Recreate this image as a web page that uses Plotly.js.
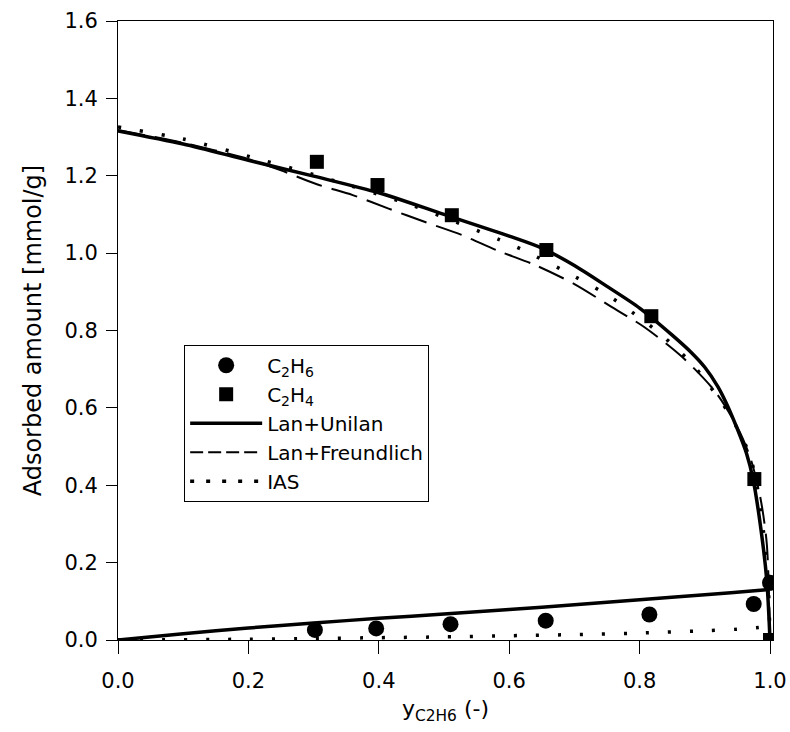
<!DOCTYPE html>
<html><head><meta charset="utf-8">
<script src="https://cdn.plot.ly/plotly-3.0.1.min.js"></script>
<style>html,body{margin:0;padding:0;background:#fff}#chart{width:790px;height:732px}</style>
</head><body><div id="chart"></div>
<script>
// Experimental points
const c2h6X = [0.302, 0.396, 0.510, 0.656, 0.815, 0.975, 1.0];
const c2h6Y = [0.026, 0.030, 0.041, 0.050, 0.066, 0.093, 0.148];
const c2h4X = [0.305, 0.398, 0.512, 0.657, 0.818, 0.976, 1.0];
const c2h4Y = [1.236, 1.176, 1.098, 1.008, 0.837, 0.416, 0.0];

// Lan+Unilan model curves
const unilanC2H4X = [0, 0.1, 0.2, 0.3, 0.4, 0.5, 0.6, 0.65, 0.7, 0.75, 0.8, 0.85, 0.88, 0.9, 0.92, 0.933, 0.95, 0.964, 0.974, 0.985, 0.995, 1.0];
const unilanC2H4Y = [1.316, 1.282, 1.240, 1.199, 1.156, 1.100, 1.044, 1.013, 0.968, 0.914, 0.858, 0.788, 0.742, 0.705, 0.655, 0.612, 0.545, 0.482, 0.416, 0.300, 0.155, 0.0];
const unilanC2H6X = [0, 0.1, 0.2, 0.3, 0.4, 0.5, 0.6, 0.7, 0.8, 0.9, 0.99, 1.0];
const unilanC2H6Y = [0, 0.016, 0.031, 0.044, 0.056, 0.067, 0.079, 0.091, 0.104, 0.117, 0.129, 0.131];

// Lan+Freundlich model curve
const freundC2H4X = [0, 0.1, 0.2, 0.25, 0.305, 0.36, 0.415, 0.47, 0.527, 0.583, 0.64, 0.7, 0.755, 0.807, 0.865, 0.916, 0.95, 0.97, 0.985, 0.995, 1.0];
const freundC2H4Y = [1.318, 1.285, 1.243, 1.214, 1.178, 1.150, 1.115, 1.081, 1.047, 1.006, 0.969, 0.920, 0.863, 0.809, 0.732, 0.642, 0.550, 0.470, 0.370, 0.250, 0.0];

// IAS curves
const iasC2H4X = [0, 0.1, 0.218, 0.3, 0.45, 0.586, 0.621, 0.7, 0.755, 0.788, 0.821, 0.854, 0.885, 0.934, 0.951, 0.969, 0.98, 0.99, 0.997, 1.0];
const iasC2H4Y = [1.326, 1.295, 1.242, 1.203, 1.124, 1.034, 1.008, 0.940, 0.887, 0.848, 0.806, 0.758, 0.705, 0.594, 0.543, 0.478, 0.400, 0.280, 0.150, 0.0];
const iasC2H6X = [0, 0.2, 0.3, 0.4, 0.5, 0.6, 0.7, 0.8, 0.9, 0.95, 0.99, 0.995];
const iasC2H6Y = [0, 0.002, 0.004, 0.006, 0.008, 0.011, 0.014, 0.018, 0.024, 0.028, 0.034, 0.036];

const xTicks = [0, 0.2, 0.4, 0.6, 0.8, 1.0];
const yTicks = [0, 0.2, 0.4, 0.6, 0.8, 1.0, 1.2, 1.4, 1.6];

const FONT = 'DejaVu Sans, Arial, sans-serif';
const SM = 0.8;
const traces = [
  {x: unilanC2H6X, y: unilanC2H6Y, mode: 'lines', line: {color: '#000', width: 3.5, shape: 'spline', smoothing: SM}, showlegend: false},
  {x: iasC2H6X, y: iasC2H6Y, mode: 'lines', line: {color: '#000', width: 3.5, dash: '3px,19px', shape: 'spline', smoothing: SM}, showlegend: false},
  {x: freundC2H4X, y: freundC2H4Y, mode: 'lines', line: {color: '#000', width: 2, dash: '27px,10px', shape: 'spline', smoothing: SM}, showlegend: false},
  {x: iasC2H4X, y: iasC2H4Y, mode: 'lines', line: {color: '#000', width: 3.5, dash: '3px,19px', shape: 'spline', smoothing: SM}, showlegend: false},
  {x: unilanC2H4X, y: unilanC2H4Y, mode: 'lines', line: {color: '#000', width: 3.5, shape: 'spline', smoothing: SM}, showlegend: false},
  {x: c2h6X, y: c2h6Y, mode: 'markers', name: 'C<sub>2</sub>H<sub>6</sub>', marker: {symbol: 'circle', size: 16, color: '#000'}, legendrank: 1},
  {x: c2h4X, y: c2h4Y, mode: 'markers', name: 'C<sub>2</sub>H<sub>4</sub>', marker: {symbol: 'square', size: 14, color: '#000'}, legendrank: 2},
  {x: [null], y: [null], mode: 'lines', name: 'Lan+Unilan', line: {color: '#000', width: 3.5}, legendrank: 3},
  {x: [null], y: [null], mode: 'lines', name: 'Lan+Freundlich', line: {color: '#000', width: 2, dash: '13px,5px'}, legendrank: 4},
  {x: [null], y: [null], mode: 'lines', name: 'IAS', line: {color: '#000', width: 3.5, dash: '4px,12px'}, legendrank: 5}
];

const layout = {
  width: 790, height: 732,
  margin: {l: 118, r: 17, t: 21, b: 92},
  paper_bgcolor: '#fff', plot_bgcolor: '#fff',
  font: {family: FONT, size: 21, color: '#000'},
  showlegend: true,
  legend: {x: 0.101, y: 0.477, xanchor: 'left', yanchor: 'top', bordercolor: '#000', borderwidth: 1,
           bgcolor: '#fff', font: {family: FONT, size: 20, color: '#000'}, itemwidth: 72, tracegroupgap: 0},
  xaxis: {range: [0, 1.0046], tickvals: xTicks, ticktext: xTicks.map(v => v.toFixed(1)),
          showgrid: false, zeroline: false, showline: true, mirror: true, linecolor: '#000', linewidth: 1,
          ticks: 'outside', ticklen: 13, tickwidth: 1, tickcolor: '#000', ticklabelstandoff: 9,
          title: {text: 'y<sub>C2H6</sub> (-)', font: {family: FONT, size: 22}}},
  yaxis: {range: [0, 1.6], tickvals: yTicks, ticktext: yTicks.map(v => v.toFixed(1)),
          showgrid: false, zeroline: false, showline: true, mirror: true, linecolor: '#000', linewidth: 1,
          ticks: 'outside', ticklen: 11, tickwidth: 1, tickcolor: '#000', ticklabelstandoff: 4},
  annotations: [
    {text: 'Adsorbed amount [mmol/g]', xref: 'paper', yref: 'paper', x: -0.13, y: 0.5,
     xanchor: 'center', yanchor: 'middle', textangle: -90, showarrow: false,
     font: {family: FONT, size: 24, color: '#000'}}
  ]
};

Plotly.newPlot('chart', traces, layout, {staticPlot: true, displayModeBar: false});
</script>
</body></html>
